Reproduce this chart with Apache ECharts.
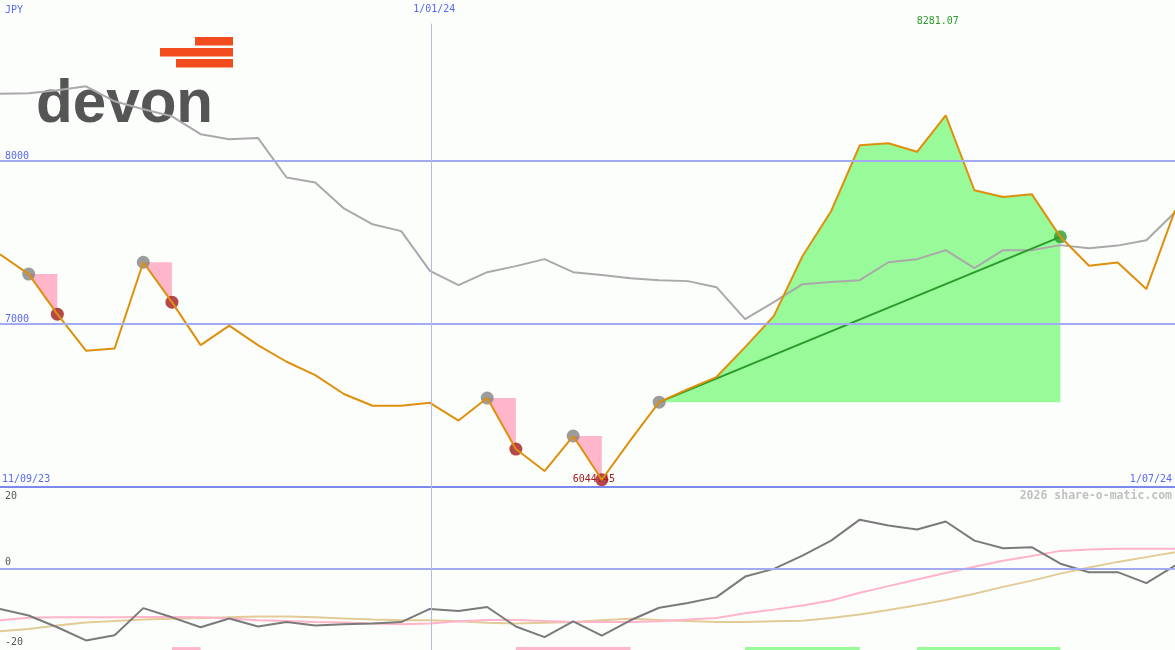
<!DOCTYPE html>
<html><head><meta charset="utf-8">
<script src="https://cdn.jsdelivr.net/npm/echarts@6/dist/echarts.min.js"></script>
<style>html,body{margin:0;padding:0;background:#fcfefc;overflow:hidden}#c{width:1175px;height:650px}</style>
</head><body><div id="c"></div>
<script>
// ---- data (weekly points, index 0..41) ----
const price = [7429,7307,7061,6837,6850,7380,7135,6871,6991,6871,6769,6687,6571,6499,6499,6517,6408,6546,6233,6098,6313,6044.45,6288,6521,6601,6675,6859,7049,7417,7693,8098,8110,8058,8281.07,7822,7781,7798,7536,7358,7379,7215,7699];
const compare = [8414,8417,8436,8460,8368,8319,8276,8166,8135,8143,7900,7869,7710,7613,7571,7327,7239,7319,7356,7399,7319,7301,7282,7270,7264,7227,7031,7135,7245,7258,7270,7380,7399,7454,7344,7454,7454,7485,7466,7482,7515,7687];
const osc = [-11.0,-12.8,-16.0,-19.6,-18.2,-10.8,-13.3,-16.0,-13.6,-15.8,-14.6,-15.5,-15.2,-15.0,-14.6,-11.0,-11.6,-10.5,-15.8,-18.7,-14.4,-18.3,-14.1,-10.7,-9.4,-7.8,-2.2,-0.1,3.5,7.6,13.3,11.7,10.6,12.8,7.6,5.5,5.8,1.3,-1.0,-1.0,-4.0,0.8];
const oscPink = [-14.1,-13.4,-13.3,-13.3,-13.3,-13.2,-13.2,-13.3,-13.6,-14.1,-14.3,-14.6,-14.7,-15.0,-15.2,-15.0,-14.4,-14.0,-14.0,-14.3,-14.6,-14.6,-14.6,-14.4,-13.9,-13.5,-12.2,-11.2,-10.1,-8.7,-6.6,-4.8,-3.0,-1.2,0.5,2.1,3.4,4.8,5.2,5.4,5.4,5.4];
const oscTan = [-17.1,-16.5,-15.5,-14.7,-14.3,-13.9,-13.7,-13.5,-13.3,-13.1,-13.1,-13.3,-13.6,-13.9,-14.1,-14.1,-14.4,-14.8,-15.0,-14.8,-14.6,-14.1,-13.7,-14.0,-14.3,-14.6,-14.6,-14.4,-14.2,-13.5,-12.5,-11.3,-10.0,-8.6,-6.9,-5.0,-3.3,-1.4,0.3,1.8,3.1,4.4];
const lossTrades = [[1,2],[5,6],[17,18],[20,21]];
const winTrades = [[23,37]];
const pinkBars = [[6,7],[18,22]];
const greenBars = [[26,30],[32,37]];
const priceTicks = [8000, 7000];
const oscTicks = [20, 0, -20];
const dateStart = '11/09/23', dateMid = '1/01/24', dateEnd = '1/07/24';
const janIndex = 15.05;
const currency = 'JPY';

const N = price.length;
const pairs = arr => arr.map((v, i) => [i, v]);
const MONO = '"DejaVu Sans Mono", monospace';

const entries = lossTrades.concat(winTrades).map(t => [t[0], price[t[0]]]);
const lossExits = lossTrades.map(t => [t[1], price[t[1]]]);
const winExits = winTrades.map(t => [t[1], price[t[1]]]);

const chart = echarts.init(document.getElementById('c'));
const option = {
  backgroundColor: '#fcfefc',
  animation: false,
  grid: [
    {left: 0, right: 0, top: 0, height: 487},
    {left: 0, right: 0, top: 487, height: 163}
  ],
  xAxis: [
    {type: 'value', gridIndex: 0, min: 0, max: N - 1, show: false},
    {type: 'value', gridIndex: 1, min: 0, max: N - 1, show: false}
  ],
  yAxis: [
    {type: 'value', gridIndex: 0, min: 6000, max: 8990, show: false},
    {type: 'value', gridIndex: 1, min: -22.2, max: 22.2, show: false}
  ],
  series: [
    { // grid lines main
      type: 'line', xAxisIndex: 0, yAxisIndex: 0, data: [], z: 0, silent: true,
      markLine: {
        silent: true, symbol: 'none', label: {show: false},
        data: [
          ...priceTicks.map(v => ({yAxis: v, lineStyle: {color: '#a3acf2', width: 2, type: 'solid'}})),
          {yAxis: 6000, lineStyle: {color: '#7b88ec', width: 2, type: 'solid'}},
          [{coord: [janIndex, 8845], lineStyle: {color: '#b4bae6', width: 1, type: 'solid'}}, {coord: [janIndex, 6000]}]
        ]
      }
    },
    { // grid lines lower
      type: 'line', xAxisIndex: 1, yAxisIndex: 1, data: [], z: 0, silent: true,
      markLine: {
        silent: true, symbol: 'none', label: {show: false},
        data: [
          {yAxis: 0, lineStyle: {color: '#a3acf2', width: 2, type: 'solid'}},
          {xAxis: janIndex, lineStyle: {color: '#b4bae6', width: 1, type: 'solid'}}
        ]
      }
    },
    { // winning trade area
      type: 'custom', xAxisIndex: 0, yAxisIndex: 0, z: 1, silent: true,
      data: winTrades.map((t, k) => [k]),
      renderItem: (params, api) => {
        const t = winTrades[params.dataIndex];
        const a = t[0], b = t[1];
        const pts = [];
        for (let i = a; i <= b; i++) pts.push(api.coord([i, price[i]]));
        pts.push(api.coord([b, price[a]]));
        pts.push(api.coord([a, price[a]]));
        return {type: 'polygon', shape: {points: pts}, style: {fill: '#98fa98'}};
      }
    },
    { // losing trade triangles
      type: 'custom', xAxisIndex: 0, yAxisIndex: 0, z: 1, silent: true,
      data: lossTrades.map((t, k) => [k]),
      renderItem: (params, api) => {
        const t = lossTrades[params.dataIndex];
        const a = t[0], b = t[1];
        const pts = [api.coord([a, price[a]]), api.coord([b, price[a]]), api.coord([b, price[b]])];
        return {type: 'polygon', shape: {points: pts}, style: {fill: '#ffb6cb'}};
      }
    },
    {
      type: 'line', xAxisIndex: 0, yAxisIndex: 0, z: 2, silent: true,
      data: pairs(compare), symbol: 'none',
      lineStyle: {color: '#a9a9a9', width: 2}
    },
    {
      type: 'line', xAxisIndex: 0, yAxisIndex: 0, z: 3, silent: true,
      data: winTrades.flatMap(t => [[t[0], price[t[0]]], [t[1], price[t[1]]]]), symbol: 'none',
      lineStyle: {color: '#2a9a2a', width: 2}
    },
    {
      type: 'scatter', xAxisIndex: 0, yAxisIndex: 0, z: 3, silent: true,
      data: entries, symbolSize: 13, itemStyle: {color: '#838383'}
    },
    {
      type: 'scatter', xAxisIndex: 0, yAxisIndex: 0, z: 3, silent: true,
      data: lossExits, symbolSize: 13, itemStyle: {color: '#a31c1c'}
    },
    {
      type: 'scatter', xAxisIndex: 0, yAxisIndex: 0, z: 3, silent: true,
      data: winExits, symbolSize: 13, itemStyle: {color: '#2a9a2a'}
    },
    {
      type: 'line', xAxisIndex: 0, yAxisIndex: 0, z: 4, silent: true,
      data: pairs(price), symbol: 'none',
      lineStyle: {color: '#de8f0c', width: 2}
    },
    // lower panel
    {
      type: 'custom', xAxisIndex: 1, yAxisIndex: 1, z: 1, silent: true,
      data: pinkBars.map((b, k) => [k, 0]).concat(greenBars.map((b, k) => [k, 1])),
      renderItem: (params, api) => {
        const isGreen = params.dataIndex >= pinkBars.length;
        const b = isGreen ? greenBars[params.dataIndex - pinkBars.length] : pinkBars[params.dataIndex];
        const p1 = api.coord([b[0], -21.4]);
        const p2 = api.coord([b[1], -22.2]);
        return {type: 'rect', shape: {x: p1[0], y: p1[1], width: p2[0] - p1[0], height: p2[1] - p1[1] + 1},
          style: {fill: isGreen ? '#98fa98' : '#ffb6cb'}};
      }
    },
    {
      type: 'line', xAxisIndex: 1, yAxisIndex: 1, z: 2, silent: true,
      data: pairs(oscTan), symbol: 'none', lineStyle: {color: '#e3cb98', width: 2}
    },
    {
      type: 'line', xAxisIndex: 1, yAxisIndex: 1, z: 2, silent: true,
      data: pairs(oscPink), symbol: 'none', lineStyle: {color: '#ffb4ca', width: 2}
    },
    {
      type: 'line', xAxisIndex: 1, yAxisIndex: 1, z: 3, silent: true,
      data: pairs(osc), symbol: 'none', lineStyle: {color: '#7a7a7a', width: 2}
    }
  ]
};
chart.setOption(option);

// ---- text labels placed through the axes' scales ----
const P0 = (x, y) => chart.convertToPixel({gridIndex: 0}, [x, y]);
const P1 = (x, y) => chart.convertToPixel({gridIndex: 1}, [x, y]);
const txt = (text, x, y, color, align, extra) => Object.assign({
  type: 'text', silent: true, z: 0,
  style: {text: text, x: x, y: y, fill: color, font: '10px ' + MONO, align: align || 'left', verticalAlign: 'middle'}
}, extra || {});

let iMax = 0, iMin = 0;
price.forEach((v, i) => { if (v > price[iMax]) iMax = i; if (v < price[iMin]) iMin = i; });

const g = [];
// logo
g.push({type: 'rect', silent: true, shape: {x: 195, y: 37, width: 38, height: 8.5}, style: {fill: '#f24b1e'}});
g.push({type: 'rect', silent: true, shape: {x: 160, y: 48, width: 73, height: 8.5}, style: {fill: '#f24b1e'}});
g.push({type: 'rect', silent: true, shape: {x: 176, y: 59, width: 57, height: 8.5}, style: {fill: '#f24b1e'}});
g.push({type: 'text', silent: true, x: 36, y: 105, scaleX: 0.97,
  style: {text: 'devon', x: 0, y: 0, fill: '#555555', font: 'bold 62px "Liberation Sans"', align: 'left', verticalAlign: 'middle'}});

g.push(txt(currency, 5, 10, '#5a68f0'));
priceTicks.forEach(v => { const p = P0(0, v); g.push(txt(String(v), 5, p[1] - 5, '#5a68f0')); });
const pb = P0(0, 6000);
g.push(txt(dateStart, 2, pb[1] - 8, '#5a68f0'));
g.push(txt(dateEnd, 1172, pb[1] - 8, '#5a68f0', 'right'));
const pj = P0(janIndex, 6000);
g.push(txt(dateMid, pj[0] + 3, 9, '#5a68f0', 'center'));
const pmax = P0(iMax, price[iMax]);
g.push(txt(price[iMax].toFixed(2), pmax[0] - 8, 21, '#2a9a2a', 'center'));
const pmin = P0(iMin, price[iMin]);
g.push(txt(price[iMin].toFixed(2), pmin[0] - 8, pmin[1], '#a31c1c', 'center'));
oscTicks.forEach(v => {
  const p = P1(0, v);
  const dy = v === 0 ? -6 : (v > 0 ? 1 : 0);
  g.push(txt(String(v), 5, p[1] + dy, '#555555'));
});
g.push({type: 'text', silent: true, z: 0,
  style: {text: '2026 share-o-matic.com', x: 1172, y: 496, fill: '#c0c0c0', font: 'bold 11.5px ' + MONO, align: 'right', verticalAlign: 'middle'}});

chart.setOption({graphic: {elements: g}});
</script>
</body></html>
